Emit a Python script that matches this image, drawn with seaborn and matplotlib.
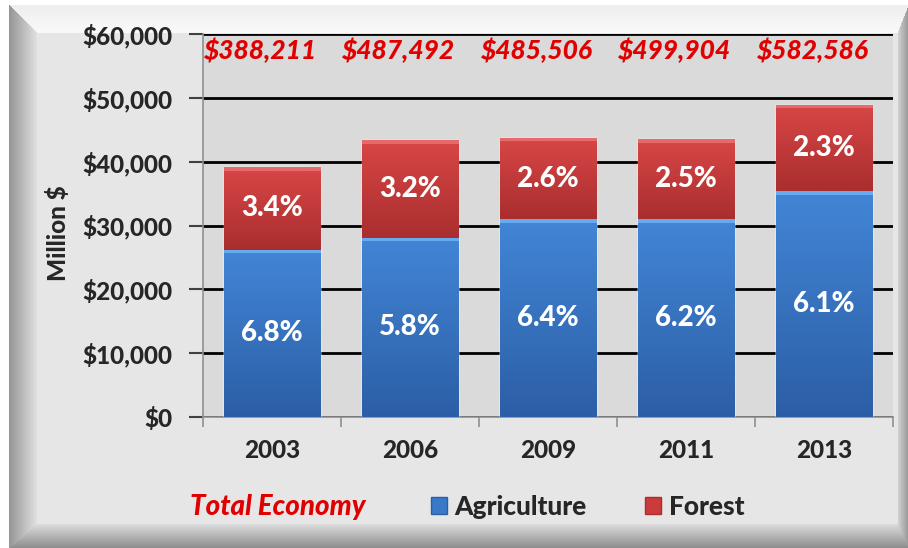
import numpy as np
import pandas as pd
import matplotlib
matplotlib.use("Agg")
import matplotlib.pyplot as plt
import seaborn as sns
from matplotlib.patches import Patch

# data
years = ["2003", "2006", "2009", "2011", "2013"]
agriculture = [26240, 28120, 30940, 30990, 35330]
forest = [12940, 15250, 12740, 12490, 13480]
agri_pct = ["6.8%", "5.8%", "6.4%", "6.2%", "6.1%"]
forest_pct = ["3.4%", "3.2%", "2.6%", "2.5%", "2.3%"]
total_economy = ["$388,211", "$487,492", "$485,506", "$499,904", "$582,586"]
y_ticks = [0, 10000, 20000, 30000, 40000, 50000, 60000]

df = pd.DataFrame({"Year": years, "Agriculture": agriculture, "Forest": forest})
df["Total"] = df["Agriculture"] + df["Forest"]

sns.set_theme(style="white")
plt.rcParams["font.family"] = ["Lato", "DejaVu Sans"]
HEAVY = "black"

W, H = 908, 548
fig = plt.figure(figsize=(W / 100, H / 100), dpi=100)
fig.patch.set_facecolor("white")

# bevelled frame drawn as a background image
yy, xx = np.mgrid[0:H, 0:W].astype(float)
x0, x1, y0, y1 = 9, 908, 5, 548
wl, wt, wr, wb = 28, 28, 11, 25
dl, dt, dr, db = (xx - x0) / wl, (yy - y0) / wt, (x1 - xx) / wr, (y1 - yy) / wb
stack = np.stack([dl, dt, dr, db])
face = stack.argmin(axis=0)
t = np.clip(stack.min(axis=0), 0, 1)
shade = np.full((H, W), 230.0)
lo = [150, 238, 150, 140]
hi = [226, 250, 214, 222]
for i in range(4):
    m = (face == i) & (t < 1)
    shade[m] = lo[i] + (hi[i] - lo[i]) * t[m]
inside = (xx >= x0) & (yy >= y0)
shade[~inside] = 255
bgimg = np.repeat((shade / 255.0)[:, :, None], 3, axis=2)
bg = fig.add_axes([0, 0, 1, 1], zorder=-1)
bg.imshow(bgimg, aspect="auto", interpolation="bilinear")
bg.axis("off")

ax = fig.add_axes([203 / W, 1 - 417 / H, (893 - 203) / W, (417 - 34) / H])
ax.set_facecolor("#dadada")

red = "#cc3b3b"
blue = "#3a78c8"
sns.barplot(data=df, x="Year", y="Total", color=red, width=0.70, ax=ax,
            saturation=1, zorder=3)
sns.barplot(data=df, x="Year", y="Agriculture", color=blue, width=0.70, ax=ax,
            saturation=1, zorder=3)

ax.set_ylim(0, 60000)
ax.set_xlim(-0.5, 4.5)
px_per_unit = (417 - 34) / 60000.0


def gradient(patch, lo_y, hi_y, top, bottom, light):
    x = patch.get_x()
    w = patch.get_width()
    n = max(int((hi_y - lo_y) * px_per_unit), 2)
    s = np.linspace(0, 1, n)[:, None]
    top = np.array(matplotlib.colors.to_rgb(top))
    bottom = np.array(matplotlib.colors.to_rgb(bottom))
    img = top * (1 - s) + bottom * s
    img[:4] = matplotlib.colors.to_rgb(light)
    im = ax.imshow(img[:, None, :], extent=[x, x + w, lo_y, hi_y], aspect="auto",
                   origin="upper", zorder=3.5, interpolation="bilinear")
    im.set_clip_path(patch)


patches = ax.patches
for i, p in enumerate(patches[:5]):
    gradient(p, df["Agriculture"][i], df["Total"][i], "#d84646", "#aa2e2e", "#e66a6a")
for i, p in enumerate(patches[5:10]):
    gradient(p, 0, df["Agriculture"][i], "#4286d6", "#2c5ea6", "#68aaf0")

ax.set_xlim(-0.5, 4.5)
ax.set_ylim(0, 60000)

# segment labels
for i in range(len(years)):
    ax.text(i, df["Agriculture"][i] / 2, agri_pct[i], ha="center", va="center",
            color="white", fontsize=20, fontweight=HEAVY, zorder=5)
    ax.text(i, df["Agriculture"][i] + df["Forest"][i] / 2, forest_pct[i],
            ha="center", va="center", color="white", fontsize=20,
            fontweight=HEAVY, zorder=5)
    ax.text(i - 0.08, 57400, total_economy[i], ha="center", va="center",
            color="#e00000", fontsize=19, fontweight=HEAVY, style="italic",
            zorder=5)

# axes styling
ax.set_yticks(y_ticks)
ax.set_yticklabels(["${:,.0f}".format(v) for v in y_ticks], fontsize=17.5,
                   fontweight=HEAVY)
ax.yaxis.grid(True, color="black", linewidth=2)
ax.set_axisbelow(True)
ax.tick_params(axis="y", length=10, width=1.5, color="#404040", pad=12, left=True)
ax.set_xticks(range(len(years)))
ax.set_xticklabels(years, fontsize=17.5, fontweight=HEAVY)
ax.tick_params(axis="x", which="major", length=0, pad=16)
ax.set_xticks(np.arange(-0.5, 5, 1), minor=True)
ax.tick_params(axis="x", which="minor", length=7, width=1.2, color="#909090",
               bottom=True)
for side in ["top", "right"]:
    ax.spines[side].set_visible(False)
ax.spines["left"].set_color("#909090")
ax.spines["bottom"].set_color("#909090")
ax.spines["left"].set_linewidth(1.2)
ax.spines["bottom"].set_linewidth(1.2)
ax.set_xlabel("")
ax.set_ylabel("Million $", fontsize=17.5, fontweight=HEAVY)
ax.yaxis.set_label_coords((70 - 203) / (893 - 203), 0.48)

# legend
fig.text(190 / W, 1 - 507 / H, "Total Economy", color="#e00000", fontsize=20,
         fontweight=HEAVY, style="italic", va="center", ha="left")
handles = [Patch(facecolor=blue, edgecolor="#2c5ea6"),
           Patch(facecolor=red, edgecolor="#aa2e2e")]
leg = fig.legend(handles, ["Agriculture", "Forest"], loc="center left",
                 bbox_to_anchor=(407 / W, 1 - 507 / H), ncol=2, frameon=False,
                 handlelength=0.6, handleheight=0.6, handletextpad=0.3,
                 columnspacing=2.2, prop={"size": 19, "weight": HEAVY})

fig.savefig("out.png", dpi=100, facecolor=fig.get_facecolor())
